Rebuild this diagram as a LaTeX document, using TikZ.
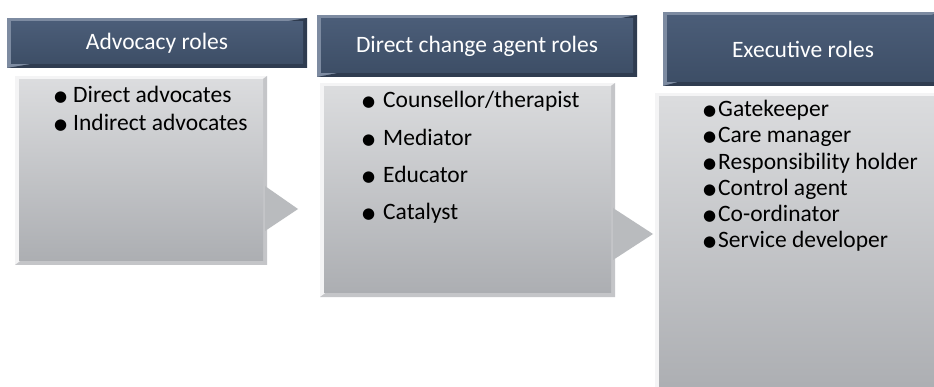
\documentclass[tikz,border=0pt]{standalone}
\usepackage{fontspec}
\setmainfont{Carlito}
\newfontfamily\symfont{DejaVu Sans}
\definecolor{hdlight}{HTML}{7D8BA1}
\definecolor{hddark}{HTML}{2F3C50}
\definecolor{hdtop}{HTML}{4B5D78}
\definecolor{hdbot}{HTML}{3D4E66}
\definecolor{bdlight}{HTML}{F4F4F5}
\definecolor{bddark}{HTML}{C4C5C8}
\definecolor{bdtop}{HTML}{DBDCDE}
\definecolor{bdbot}{HTML}{ACAEB2}
\definecolor{arrowgray}{HTML}{B9BBBE}
\newcommand\bul{\raisebox{1.2pt}{\symfont\fontsize{15}{15}\selectfont ●}}
\tikzset{
  hdrbox/.style={inner sep=0pt, top color=hdtop, bottom color=hdbot, draw=none,
    text=white, font=\fontsize{23.5}{28}\selectfont},
  bodybox/.style={inner sep=0pt, top color=bdtop, bottom color=bdbot, draw=none},
  itemtext/.style={anchor=base west, inner sep=0pt, text=black, font=\fontsize{23.5}{28}\selectfont},
  arrowfill/.style={fill=arrowgray},
}
\begin{document}
\begin{tikzpicture}[x=1pt,y=-1pt]
\clip (0,0) rectangle (934,387);
\fill[white] (0,0) rectangle (934,387);
% ---------- header 1
\fill[hdlight] (7,18) rectangle (307,68);
\fill[hddark] (307,18) -- (307,68) -- (7,68) -- cycle;
\node[hdrbox, minimum width=292pt, minimum height=42pt] (h1) at (157,43) {Advocacy roles};
% ---------- header 2
\fill[hdlight] (317,15) rectangle (637,77);
\fill[hddark] (637,15) -- (637,77) -- (317,77) -- cycle;
\node[hdrbox, minimum width=312pt, minimum height=54pt] (h2) at (477,46) {Direct change agent roles};
% ---------- header 3
\fill[hdlight] (663,12) rectangle (943,86);
\fill[hddark] (943,12) -- (943,86) -- (663,86) -- cycle;
\node[hdrbox, minimum width=272pt, minimum height=66pt] (h3) at (803,49) {Executive roles};
% ---------- body 1
\fill[bdlight] (15,76) rectangle (267,265);
\fill[bddark] (267,76) -- (267,265) -- (15,265) -- cycle;
\node[bodybox, minimum width=244pt, minimum height=181pt] (b1) at (141,170.5) {};
\fill[arrowfill] (265,186) -- (298,209) -- (265,231) -- cycle;
% ---------- body 2
\fill[bdlight] (320,83) rectangle (615,297);
\fill[bddark] (615,83) -- (615,297) -- (320,297) -- cycle;
\node[bodybox, minimum width=287pt, minimum height=206pt] (b2) at (467.5,190) {};
\fill[arrowfill] (613,208) -- (653,234) -- (613,260) -- cycle;
% ---------- body 3
\fill[bdlight] (655,93) rectangle (943,395);
\fill[bddark] (943,93) -- (943,395) -- (655,395) -- cycle;
\node[bodybox, minimum width=280pt, minimum height=294pt] (b3) at (799,244) {};
% ---------- items
\node[itemtext] (i11) at (54,103) {\makebox[19pt][l]{\bul}Direct advocates};
\node[itemtext] (i12) at (54,131) {\makebox[19pt][l]{\bul}Indirect advocates};
\node[itemtext] (i21) at (362,108) {\makebox[21pt][l]{\bul}Counsellor/therapist};
\node[itemtext] (i22) at (362,145.5) {\makebox[21pt][l]{\bul}Mediator};
\node[itemtext] (i23) at (362,183) {\makebox[21pt][l]{\bul}Educator};
\node[itemtext] (i24) at (362,220) {\makebox[21pt][l]{\bul}Catalyst};
\node[itemtext] (i31) at (703,117) {\makebox[15pt][l]{\bul}Gatekeeper};
\node[itemtext] (i32) at (703,143) {\makebox[15pt][l]{\bul}Care manager};
\node[itemtext] (i33) at (703,169.5) {\makebox[15pt][l]{\bul}Responsibility holder};
\node[itemtext] (i34) at (703,195.5) {\makebox[15pt][l]{\bul}Control agent};
\node[itemtext] (i35) at (703,222) {\makebox[15pt][l]{\bul}Co-ordinator};
\node[itemtext] (i36) at (703,248) {\makebox[15pt][l]{\bul}Service developer};
\end{tikzpicture}
\end{document}
